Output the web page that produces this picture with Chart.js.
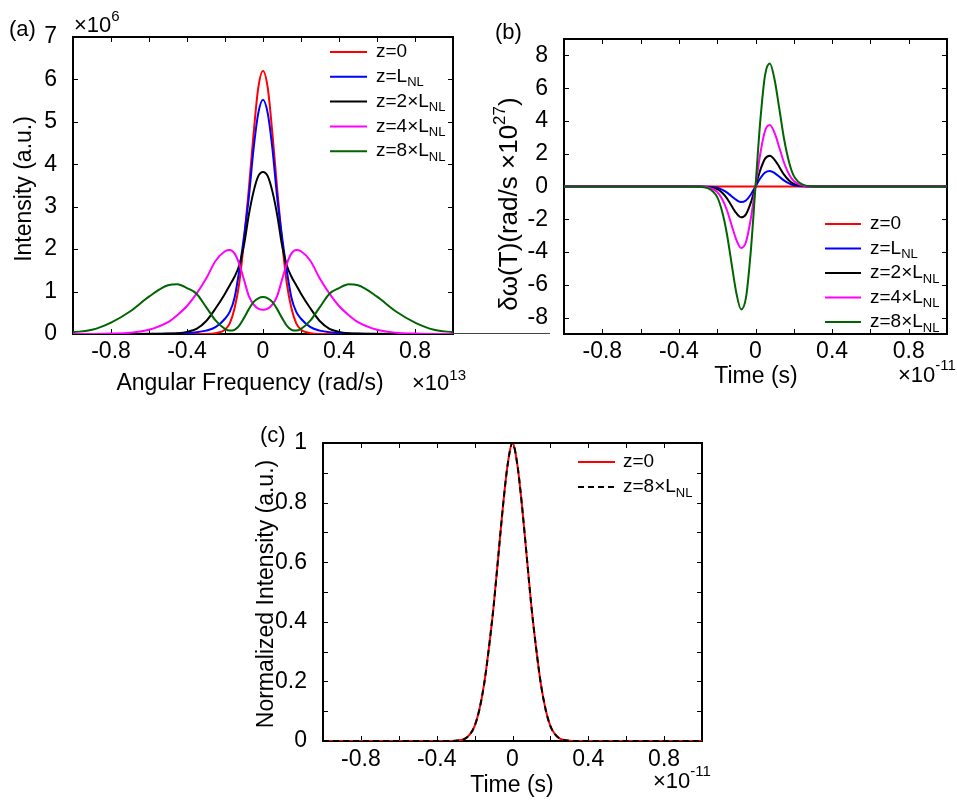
<!DOCTYPE html>
<html>
<head>
<meta charset="utf-8">
<script src="https://cdn.jsdelivr.net/npm/chart.js@4.4.1/dist/chart.umd.min.js"></script>
<style>
  body { margin: 0; background: #fff; width: 957px; height: 803px; position: relative; overflow: hidden; }
  canvas { position: absolute; }
  #stray { position: absolute; left: 453px; top: 333px; width: 97px; height: 1px; background: #444; }
</style>
</head>
<body>
<canvas id="chart-a" width="480" height="400" style="left:0;top:0"></canvas>
<canvas id="chart-b" width="477" height="400" style="left:480px;top:0"></canvas>
<canvas id="chart-c" width="500" height="403" style="left:240px;top:400px"></canvas>
<div id="stray"></div>
<script>
const FONT = '"Liberation Sans", Arial, Helvetica, sans-serif';

// (a) spectra: angular frequency (x1e13 rad/s), intensity (x1e6)
const freqA = [-1, -0.9, -0.8, -0.7, -0.6, -0.5, -0.45, -0.4, -0.35, -0.3, -0.25, -0.2, -0.175, -0.15, -0.125, -0.1, -0.075, -0.05, -0.025, 0,
  0.025, 0.05, 0.075, 0.1, 0.125, 0.15, 0.175, 0.2, 0.25, 0.3, 0.35, 0.4, 0.45, 0.5, 0.6, 0.7, 0.8, 0.9, 1];
const specZ0 = [0, 0, 0, 0, 0, 0, 0, 0, 0, 0.002, 0.02, 0.1, 0.25, 0.6, 1.2, 2.2, 3.4, 4.7, 5.8, 6.2,
  5.8, 4.7, 3.4, 2.2, 1.2, 0.6, 0.25, 0.1, 0.02, 0.002, 0, 0, 0, 0, 0, 0, 0, 0, 0];
const specZ1 = [0, 0, 0, 0, 0.002, 0.006, 0.01, 0.02, 0.04, 0.08, 0.16, 0.36, 0.52, 0.85, 1.5, 2.3, 3.2, 4.35, 5.2, 5.52,
  5.2, 4.35, 3.2, 2.3, 1.5, 0.85, 0.52, 0.36, 0.16, 0.08, 0.04, 0.02, 0.01, 0.006, 0.002, 0, 0, 0, 0];
const specZ2 = [0, 0, 0, 0, 0.003, 0.01, 0.02, 0.05, 0.12, 0.3, 0.6, 0.95, 1.15, 1.35, 1.62, 2.1, 2.8, 3.35, 3.72, 3.82,
  3.72, 3.35, 2.8, 2.1, 1.62, 1.35, 1.15, 0.95, 0.6, 0.3, 0.12, 0.05, 0.02, 0.01, 0.003, 0, 0, 0, 0];
const specZ4 = [0, 0, 0.01, 0.03, 0.1, 0.28, 0.45, 0.66, 0.95, 1.3, 1.72, 1.95, 1.98, 1.9, 1.65, 1.28, 0.9, 0.7, 0.6, 0.57,
  0.6, 0.7, 0.9, 1.28, 1.65, 1.9, 1.98, 1.95, 1.72, 1.3, 0.95, 0.66, 0.45, 0.28, 0.1, 0.03, 0.01, 0, 0];
const specZ8 = [0.04, 0.1, 0.27, 0.53, 0.88, 1.15, 1.17, 1.08, 0.95, 0.64, 0.32, 0.12, 0.08, 0.1, 0.2, 0.38, 0.58, 0.75, 0.84, 0.87,
  0.84, 0.75, 0.58, 0.38, 0.2, 0.1, 0.08, 0.12, 0.32, 0.64, 0.95, 1.08, 1.17, 1.15, 0.88, 0.53, 0.27, 0.1, 0.04];

// (b) frequency chirp: time (x1e-11 s), rad/s x1e27
const timeB = [-1, -0.5, -0.4, -0.35, -0.3, -0.25, -0.2, -0.175, -0.15, -0.125, -0.1, -0.075, -0.05, -0.025, 0,
  0.025, 0.05, 0.075, 0.1, 0.125, 0.15, 0.175, 0.2, 0.25, 0.3, 0.35, 0.4, 0.5, 1];
const chirpZ0 = [0, 0, 0, 0, 0, 0, 0, 0, 0, 0, 0, 0, 0, 0, 0, 0, 0, 0, 0, 0, 0, 0, 0, 0, 0, 0, 0, 0, 0];
const chirpZ1 = [0, 0, 0, 0, 0, -0.012, -0.08, -0.19, -0.36, -0.59, -0.82, -0.95, -0.85, -0.5, 0,
  0.5, 0.85, 0.95, 0.82, 0.59, 0.36, 0.19, 0.08, 0.012, 0, 0, 0, 0, 0];
const chirpZ2 = [0, 0, 0, 0, 0, -0.025, -0.16, -0.37, -0.71, -1.18, -1.63, -1.88, -1.7, -1.0, 0,
  1.0, 1.7, 1.88, 1.63, 1.18, 0.71, 0.37, 0.16, 0.025, 0, 0, 0, 0, 0];
const chirpZ4 = [0, 0, 0, 0, 0, -0.05, -0.33, -0.75, -1.42, -2.35, -3.25, -3.75, -3.4, -2.0, 0,
  2.0, 3.4, 3.75, 3.25, 2.35, 1.42, 0.75, 0.33, 0.05, 0, 0, 0, 0, 0];
const chirpZ8 = [0, 0, 0, 0, -0.01, -0.1, -0.65, -1.5, -2.85, -4.7, -6.5, -7.5, -6.8, -4.0, 0,
  4.0, 6.8, 7.5, 6.5, 4.7, 2.85, 1.5, 0.65, 0.1, 0.01, 0, 0, 0, 0];

// (c) normalized pulse intensity
const timeC = [-1, -0.5, -0.35, -0.3, -0.25, -0.225, -0.2, -0.175, -0.15, -0.125, -0.1, -0.075, -0.05, -0.025, 0,
  0.025, 0.05, 0.075, 0.1, 0.125, 0.15, 0.175, 0.2, 0.225, 0.25, 0.3, 0.35, 0.5, 1];
const pulseZ0 = [0, 0, 0, 0.001, 0.008, 0.022, 0.05, 0.105, 0.19, 0.31, 0.45, 0.62, 0.79, 0.93, 1,
  0.93, 0.79, 0.62, 0.45, 0.31, 0.19, 0.105, 0.05, 0.022, 0.008, 0.001, 0, 0, 0];
const pulseZ8 = [0, 0, 0, 0.001, 0.008, 0.022, 0.05, 0.105, 0.19, 0.31, 0.45, 0.62, 0.79, 0.93, 1,
  0.93, 0.79, 0.62, 0.45, 0.31, 0.19, 0.105, 0.05, 0.022, 0.008, 0.001, 0, 0, 0];

// legend text: [main, subscript]
const legendZ = [['z=0', ''], ['z=L', 'NL'], ['z=2×L', 'NL'], ['z=4×L', 'NL'], ['z=8×L', 'NL']];
const legendC = [['z=0', ''], ['z=8×L', 'NL']];

// tick positions and which of them carry a label
const xTicks = [-0.8, -0.6, -0.4, -0.2, 0, 0.2, 0.4, 0.6, 0.8];
const xLabels = [-0.8, -0.4, 0, 0.4, 0.8];
const yTicksA = [0, 1, 2, 3, 4, 5, 6, 7];
const yTicksB = [-8, -6, -4, -2, 0, 2, 4, 6, 8];
const yTicksC = [0, 0.1, 0.2, 0.3, 0.4, 0.5, 0.6, 0.7, 0.8, 0.9, 1];
const yLabelsC = [0, 0.2, 0.4, 0.6, 0.8, 1];

const lineColors = ['#ff0000', '#0000ff', '#000000', '#ff00ff', '#006400'];

function drawRich(ctx, x, y, parts, align) {
  let w = 0;
  parts.forEach(p => { ctx.font = p[1] + 'px ' + FONT; w += ctx.measureText(p[0]).width; });
  let cx = align === 'center' ? x - w / 2 : x;
  parts.forEach(p => {
    ctx.font = p[1] + 'px ' + FONT;
    ctx.fillText(p[0], cx, y + (p[2] || 0));
    cx += ctx.measureText(p[0]).width;
  });
}

const panelPlugin = {
  id: 'panel',
  beforeDatasetsDraw(chart) {
    const { ctx, chartArea: a, scales } = chart;
    ctx.save();
    ctx.strokeStyle = '#000';
    ctx.lineWidth = 1;
    ctx.beginPath();
    scales.x.ticks.forEach(t => {
      if (t.value <= scales.x.min || t.value >= scales.x.max) return;
      const px = Math.round(scales.x.getPixelForValue(t.value)) + 0.5;
      ctx.moveTo(px, a.bottom); ctx.lineTo(px, a.bottom - 5);
      ctx.moveTo(px, a.top); ctx.lineTo(px, a.top + 5);
    });
    scales.y.ticks.forEach(t => {
      if (t.value <= scales.y.min || t.value >= scales.y.max) return;
      const py = Math.round(scales.y.getPixelForValue(t.value)) + 0.5;
      ctx.moveTo(a.left, py); ctx.lineTo(a.left + 5, py);
      ctx.moveTo(a.right, py); ctx.lineTo(a.right - 5, py);
    });
    ctx.stroke();
    ctx.lineWidth = 2;
    ctx.strokeRect(a.left, a.top, a.right - a.left, a.bottom - a.top);
    ctx.restore();
  },
  afterDraw(chart, args, opts) {
    const ctx = chart.ctx;
    ctx.save();
    const lg = opts.legend;
    chart.data.datasets.forEach((ds, i) => {
      const yy = lg.y + i * lg.step;
      ctx.strokeStyle = ds.borderColor;
      ctx.lineWidth = 2;
      ctx.setLineDash(ds.borderDash || []);
      ctx.beginPath(); ctx.moveTo(lg.x0, yy); ctx.lineTo(lg.x1, yy); ctx.stroke();
      ctx.setLineDash([]);
      ctx.fillStyle = '#000';
      ctx.textBaseline = 'middle';
      const parts = [[lg.labels[i][0], 19]];
      if (lg.labels[i][1]) parts.push([lg.labels[i][1], 13, 6]);
      drawRich(ctx, lg.tx, yy, parts, 'left');
    });
    ctx.fillStyle = '#000';
    opts.texts.forEach(t => {
      ctx.save();
      if (t.rot) {
        ctx.translate(t.x, t.y);
        ctx.rotate(-Math.PI / 2);
        ctx.textBaseline = 'middle';
        drawRich(ctx, 0, 0, t.parts, 'center');
      } else {
        ctx.textBaseline = 'alphabetic';
        drawRich(ctx, t.x, t.y, t.parts, t.align);
      }
      ctx.restore();
    });
    ctx.restore();
  }
};

function labelCb(list) {
  return v => list.some(l => Math.abs(l - v) < 1e-6) ? String(Math.round(v * 10) / 10) : '';
}

function makeScales(o) {
  const tickFont = { family: FONT, size: 23 };
  return {
    x: {
      type: 'linear', min: -1, max: 1,
      grid: { display: false }, border: { display: false },
      ticks: { autoSkip: false, maxRotation: 0, padding: o.xPad, color: '#000', font: tickFont, callback: labelCb(xLabels) },
      afterBuildTicks: s => { s.ticks = xTicks.map(v => ({ value: v })); },
      afterFit: s => { s.height = o.xH; }
    },
    y: {
      type: 'linear', min: o.yMin, max: o.yMax,
      grid: { display: false }, border: { display: false },
      ticks: { autoSkip: false, padding: 8, color: '#000', font: tickFont, callback: labelCb(o.yLabels) },
      afterBuildTicks: s => { s.ticks = o.yTicks.map(v => ({ value: v })); },
      afterFit: s => { s.width = o.yW; }
    }
  };
}

function makeDatasets(xs, series, legend, colors, dashes) {
  return series.map((ys, i) => ({
    label: legend[i].join(''),
    data: xs.map((x, k) => ({ x: x, y: ys[k] })),
    borderColor: colors[i],
    borderWidth: 2,
    borderDash: dashes ? dashes[i] : [],
    pointRadius: 0,
    fill: false,
    cubicInterpolationMode: 'monotone',
    order: series.length - i
  }));
}

function baseOptions(pad, scales, panel) {
  return {
    responsive: false,
    animation: false,
    events: [],
    layout: { padding: pad },
    plugins: { legend: { display: false }, tooltip: { enabled: false }, panel: panel },
    scales: scales
  };
}

new Chart(document.getElementById('chart-a'), {
  type: 'line',
  data: { datasets: makeDatasets(freqA, [specZ0, specZ1, specZ2, specZ4, specZ8], legendZ, lineColors) },
  options: baseOptions(
    { left: 0, top: 37, right: 27, bottom: 0 },
    makeScales({ yMin: 0, yMax: 7, yTicks: yTicksA, yLabels: yTicksA, yW: 73, xH: 66, xPad: -4 }),
    {
      legend: { labels: legendZ, x0: 330, x1: 367, tx: 376, y: 52, step: 24.8 },
      texts: [
        { x: 9, y: 36, parts: [['(a)', 22]] },
        { x: 74, y: 32, parts: [['×10', 22], ['6', 15, -11]] },
        { x: 25, y: 189, rot: true, parts: [['Intensity (a.u.)', 23]] },
        { x: 250, y: 390, align: 'center', parts: [['Angular Frequency (rad/s)', 23]] },
        { x: 412, y: 390, parts: [['×10', 22], ['13', 15, -10]] }
      ]
    }
  ),
  plugins: [panelPlugin]
});

new Chart(document.getElementById('chart-b'), {
  type: 'line',
  data: { datasets: makeDatasets(timeB, [chirpZ0, chirpZ1, chirpZ2, chirpZ4, chirpZ8], legendZ, lineColors) },
  options: baseOptions(
    { left: 0, top: 39, right: 10, bottom: 0 },
    makeScales({ yMin: -9, yMax: 9, yTicks: yTicksB, yLabels: yTicksB, yW: 84, xH: 66, xPad: -4 }),
    {
      legend: { labels: legendZ, x0: 345, x1: 381, tx: 390, y: 224, step: 24.5 },
      texts: [
        { x: 15, y: 39, parts: [['(b)', 22]] },
        { x: 30, y: 204, rot: true, parts: [['δω(T)(rad/s ×10', 26], ['27', 17, -10], [')', 26]] },
        { x: 276, y: 383, align: 'center', parts: [['Time (s)', 23]] },
        { x: 418, y: 382, parts: [['×10', 22], ['-11', 15, -12]] }
      ]
    }
  ),
  plugins: [panelPlugin]
});

new Chart(document.getElementById('chart-c'), {
  type: 'line',
  data: { datasets: makeDatasets(timeC, [pulseZ0, pulseZ8], legendC, ['#ff0000', '#000000'], [[], [6, 4]]) },
  options: baseOptions(
    { left: 0, top: 43, right: 38, bottom: 0 },
    makeScales({ yMin: 0, yMax: 1, yTicks: yTicksC, yLabels: yLabelsC, yW: 83, xH: 62, xPad: -3 }),
    {
      legend: { labels: legendC, x0: 338, x1: 375, tx: 383, y: 62, step: 25 },
      texts: [
        { x: 20, y: 42, parts: [['(c)', 22]] },
        { x: 27, y: 194, rot: true, parts: [['Normalized Intensity (a.u.)', 23]] },
        { x: 272, y: 392, align: 'center', parts: [['Time (s)', 23]] },
        { x: 413, y: 388, parts: [['×10', 22], ['-11', 15, -12]] }
      ]
    }
  ),
  plugins: [panelPlugin]
});
</script>
</body>
</html>
